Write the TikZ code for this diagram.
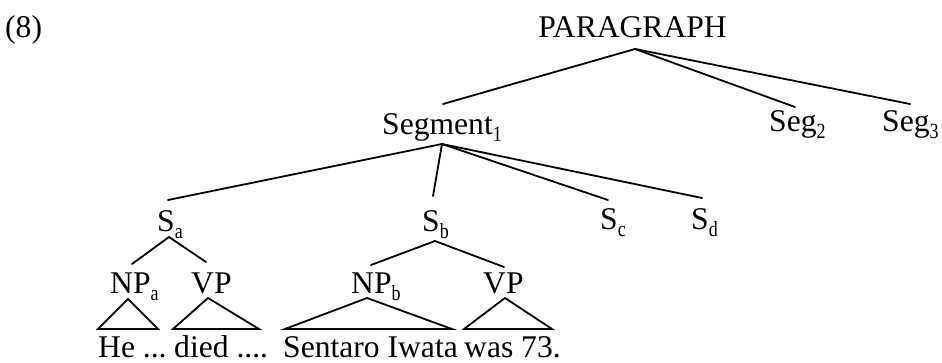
\documentclass[tikz,border=0pt]{standalone}
\usepackage{fontspec}
\setmainfont{Liberation Serif}
\newcommand{\subs}[1]{\raisebox{-7pt}{\scalebox{1}[1.2]{\fontsize{18}{18}\selectfont #1}}}
\begin{document}
\begin{tikzpicture}[x=1pt,y=-1pt,
  lab/.style={anchor=base west, inner sep=0pt, font=\fontsize{31.6}{36}\selectfont},
  edge/.style={line width=1.8pt, line cap=round, line join=miter}]
\useasboundingbox (0,0) rectangle (942,362);
% labels
\node[lab] (ex) at (5,37) {(8)};
\node[lab, anchor=base] (para) at (632.5,37) {PARAGRAPH};
\node[lab] (seg1) at (382,134) {Segment\subs{1}};
\node[lab] (seg2) at (769,131) {Seg\subs{2}};
\node[lab] (seg3) at (882,131) {Seg\subs{3}};
\node[lab] (sa) at (157,231) {S\subs{a}};
\node[lab] (sb) at (422,231) {S\subs{b}};
\node[lab] (sc) at (600,229) {S\subs{c}};
\node[lab] (sd) at (691,229) {S\subs{d}};
\node[lab] (npa) at (110,293) {NP\subs{a}};
\node[lab] (vpa) at (191,293) {VP};
\node[lab] (npb) at (351,293) {NP\subs{b}};
\node[lab] (vpb) at (483,293) {VP};
\node[lab] (w1) at (98,357) {He ...};
\node[lab] (w2) at (174,357) {died ....};
\node[lab] (w3) at (283,357) {Sentaro Iwata};
\node[lab] (w4) at (464,357) {was 73.};
% attachment points
\coordinate (para-b) at (635,49);
\coordinate (seg1-t) at (443,104);
\coordinate (seg1-b) at (442,144);
\coordinate (seg2-t) at (795,107);
\coordinate (seg3-t) at (910,104);
\coordinate (sa-t) at (168,200);
\coordinate (sa-b) at (169,237);
\coordinate (sb-t) at (433,196);
\coordinate (sb-b) at (435,241);
\coordinate (sc-t) at (608,200);
\coordinate (sd-t) at (702,198);
\coordinate (npa-t) at (132,264);
\coordinate (npa-b) at (128,299);
\coordinate (vpa-t) at (206,262);
\coordinate (vpa-b) at (208,298);
\coordinate (npb-t) at (371,265);
\coordinate (npb-b) at (367,298);
\coordinate (vpb-t) at (504,267);
\coordinate (vpb-b) at (505,298);
\coordinate (w1-l) at (98,329);
\coordinate (w1-r) at (158,329);
\coordinate (w2-l) at (173,329);
\coordinate (w2-r) at (259,329);
\coordinate (w3-l) at (285,329);
\coordinate (w3-r) at (452,329);
\coordinate (w4-l) at (464,329);
\coordinate (w4-r) at (552,329);
% edges
\draw[edge] (para-b) -- (seg1-t);
\draw[edge] (para-b) -- (seg2-t);
\draw[edge] (para-b) -- (seg3-t);
\draw[edge] (seg1-b) -- (sa-t);
\draw[edge] (seg1-b) -- (sb-t);
\draw[edge] (seg1-b) -- (sc-t);
\draw[edge] (seg1-b) -- (sd-t);
\draw[edge] (sa-b) -- (npa-t);
\draw[edge] (sa-b) -- (vpa-t);
\draw[edge] (sb-b) -- (npb-t);
\draw[edge] (sb-b) -- (vpb-t);
% triangles
\draw[edge] (w1-l) -- (npa-b) -- (w1-r) -- cycle;
\draw[edge] (w2-l) -- (vpa-b) -- (w2-r) -- cycle;
\draw[edge] (w3-l) -- (npb-b) -- (w3-r) -- cycle;
\draw[edge] (w4-l) -- (vpb-b) -- (w4-r) -- cycle;
\end{tikzpicture}
\end{document}
